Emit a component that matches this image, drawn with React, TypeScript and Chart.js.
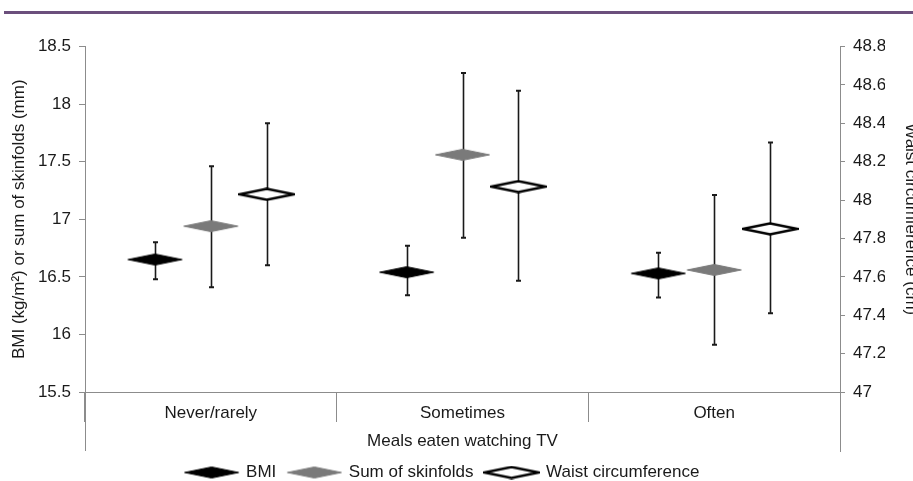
import React, { useEffect, useRef } from 'react';
import { Chart, registerables } from 'chart.js';

Chart.register(...registerables);

const categories = ['Never/rarely', 'Sometimes', 'Often'];
const seriesNames = ['BMI', 'Sum of skinfolds', 'Waist circumference'];

const bmiMean = [16.65, 16.54, 16.53];
const bmiLow = [16.48, 16.34, 16.32];
const bmiHigh = [16.8, 16.77, 16.71];

const skinMean = [16.94, 17.56, 16.56];
const skinLow = [16.41, 16.84, 15.91];
const skinHigh = [17.46, 18.27, 17.21];

const waistMean = [48.03, 48.07, 47.85];
const waistLow = [47.66, 47.58, 47.41];
const waistHigh = [48.4, 48.57, 48.3];

const leftTicks = [15.5, 16, 16.5, 17, 17.5, 18, 18.5];
const rightTicks = [47, 47.2, 47.4, 47.6, 47.8, 48, 48.2, 48.4, 48.6, 48.8];

const FONT = 'Liberation Sans, Arial, Helvetica, sans-serif';
const AXIS = '#8c8c8c';
const TEXT = '#1a1a1a';
const DODGE = 0.222;

function makeDiamond(fill: string, stroke: string, lw: number) {
  const w = 57;
  const h = 14;
  const c = document.createElement('canvas');
  c.width = w;
  c.height = h;
  const ctx = c.getContext('2d')!;
  ctx.beginPath();
  ctx.moveTo(1.5, h / 2);
  ctx.lineTo(w / 2, 1.5);
  ctx.lineTo(w - 1.5, h / 2);
  ctx.lineTo(w / 2, h - 1.5);
  ctx.closePath();
  ctx.fillStyle = fill;
  ctx.fill();
  ctx.lineWidth = lw;
  ctx.strokeStyle = stroke;
  ctx.lineJoin = 'miter';
  ctx.stroke();
  return c;
}

const errorBarPlugin = {
  id: 'errorBars',
  beforeDatasetsDraw(chart: any) {
    const ctx = chart.ctx;
    chart.data.datasets.forEach((ds: any, i: number) => {
      const meta = chart.getDatasetMeta(i);
      const yScale = chart.scales[meta.yAxisID];
      meta.data.forEach((pt: any, j: number) => {
        const x = Math.round(pt.x) + 0.5;
        const yl = yScale.getPixelForValue(ds.errLow[j]);
        const yh = yScale.getPixelForValue(ds.errHigh[j]);
        ctx.save();
        ctx.strokeStyle = '#1a1a1a';
        ctx.lineWidth = 1.6;
        ctx.beginPath();
        ctx.moveTo(x, yl);
        ctx.lineTo(x, yh);
        ctx.stroke();
        ctx.lineWidth = 2;
        ctx.beginPath();
        ctx.moveTo(x - 2.5, yl);
        ctx.lineTo(x + 2.5, yl);
        ctx.moveTo(x - 2.5, yh);
        ctx.lineTo(x + 2.5, yh);
        ctx.stroke();
        ctx.restore();
      });
    });
  },
};

const axisExtendPlugin = {
  id: 'axisExtend',
  afterDraw(chart: any) {
    const { ctx, chartArea } = chart;
    ctx.save();
    ctx.strokeStyle = AXIS;
    ctx.lineWidth = 1;
    ctx.beginPath();
    const l = Math.round(chartArea.left) + 0.5;
    const r = Math.round(chartArea.right) + 0.5;
    ctx.moveTo(l, chartArea.bottom);
    ctx.lineTo(l, chartArea.bottom + 59);
    ctx.moveTo(r, chartArea.bottom);
    ctx.lineTo(r, chartArea.bottom + 60);
    ctx.stroke();
    ctx.restore();
  },
};

export default function App() {
  const ref = useRef<HTMLCanvasElement | null>(null);

  useEffect(() => {
    if (!ref.current) return;
    const blackD = makeDiamond('#000000', '#000000', 1);
    const grayD = makeDiamond('#7a7a7a', '#7a7a7a', 1);
    const whiteD = makeDiamond('#ffffff', '#000000', 2.5);

    const mk = (means: number[], off: number) =>
      categories.map((_, i) => ({ x: i + off, y: means[i] }));

    const font = { family: FONT, size: 17 };

    const chart = new Chart(ref.current, {
      type: 'scatter',
      data: {
        labels: categories,
        datasets: [
          {
            label: seriesNames[0],
            data: mk(bmiMean, -DODGE),
            pointStyle: blackD,
            yAxisID: 'y',
            errLow: bmiLow,
            errHigh: bmiHigh,
            backgroundColor: '#000',
            borderColor: '#000',
          } as any,
          {
            label: seriesNames[1],
            data: mk(skinMean, 0),
            pointStyle: grayD,
            yAxisID: 'y',
            errLow: skinLow,
            errHigh: skinHigh,
            backgroundColor: '#7a7a7a',
            borderColor: '#7a7a7a',
          } as any,
          {
            label: seriesNames[2],
            data: mk(waistMean, DODGE),
            pointStyle: whiteD,
            yAxisID: 'y2',
            errLow: waistLow,
            errHigh: waistHigh,
            backgroundColor: '#fff',
            borderColor: '#000',
          } as any,
        ],
      },
      options: {
        animation: false,
        responsive: false,
        maintainAspectRatio: false,
        devicePixelRatio: 1,
        layout: { padding: { left: 0, right: 28, top: 46.5, bottom: 0 } },
        plugins: {
          tooltip: { enabled: false },
          legend: {
            display: true,
            position: 'bottom',
            labels: {
              usePointStyle: true,
              pointStyleWidth: 52,
              padding: 12,
              font,
              color: TEXT,
            },
          },
        },
        scales: {
          x: { type: 'linear', min: -0.5, max: 2.5, display: false },
          xCat: {
            type: 'category',
            labels: categories,
            position: 'bottom',
            offset: true,
            grid: {
              offset: true,
              drawOnChartArea: false,
              drawTicks: true,
              tickLength: 30,
              color: AXIS,
            },
            border: { color: AXIS },
            ticks: { padding: -19, font, color: TEXT, autoSkip: false, maxRotation: 0 },
            title: {
              display: true,
              text: 'Meals eaten watching TV',
              font,
              color: TEXT,
              padding: { top: 0, bottom: 0 },
            },
            afterFit: (s: any) => {
              s.height = 60;
            },
          },
          y: {
            type: 'linear',
            position: 'left',
            min: 15.5,
            max: 18.5,
            afterBuildTicks: (s: any) => {
              s.ticks = leftTicks.map((v) => ({ value: v }));
            },
            ticks: { padding: 8, font, color: TEXT, callback: (v: any) => String(v) },
            grid: { drawOnChartArea: false, drawTicks: true, tickLength: 6, color: AXIS },
            border: { color: AXIS },
            title: {
              display: true,
              text: 'BMI (kg/m²) or sum of skinfolds (mm)',
              font,
              color: TEXT,
              padding: { top: 9, bottom: 0 },
            },
            afterFit: (s: any) => {
              s.width = 85;
            },
          },
          y2: {
            type: 'linear',
            position: 'right',
            min: 47,
            max: 48.8,
            afterBuildTicks: (s: any) => {
              s.ticks = rightTicks.map((v) => ({ value: v }));
            },
            ticks: { padding: 8, font, color: TEXT, callback: (v: any) => String(v) },
            grid: { drawOnChartArea: false, drawTicks: true, tickLength: 5, color: AXIS },
            border: { color: AXIS },
            title: {
              display: true,
              text: 'Waist circumference (cm)',
              font,
              color: TEXT,
              padding: { top: -36, bottom: 0 },
            },
            afterFit: (s: any) => {
              s.width = 45;
            },
          },
        },
      } as any,
      plugins: [errorBarPlugin, axisExtendPlugin],
    });

    return () => chart.destroy();
  }, []);

  return (
    <div
      style={{
        position: 'fixed',
        left: 0,
        top: 0,
        width: 913,
        height: 481,
        overflow: 'hidden',
        background: '#ffffff',
      }}
    >
      <canvas
        ref={ref}
        width={913}
        height={491}
        style={{ display: 'block', width: 913, height: 491 }}
      />
      <div
        style={{
          position: 'absolute',
          left: 4,
          right: 0,
          top: 11,
          height: 3,
          background: '#6b4f7c',
        }}
      />
    </div>
  );
}
